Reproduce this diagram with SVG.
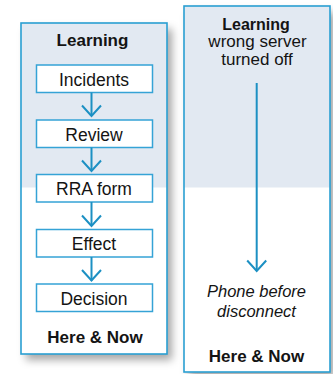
<svg xmlns="http://www.w3.org/2000/svg" width="333" height="374" viewBox="0 0 333 374">
<style>
.base{fill:#ffffff;}
.top{fill:#e2e9f2;}
.frame{fill:none;stroke:#2a9fd2;stroke-width:1.6;}
.box{fill:#ffffff;stroke:#35a3d6;stroke-width:1.5;}
.t{font-family:"Liberation Sans",Arial,sans-serif;font-size:17px;fill:#141414;text-anchor:middle;}
.b{font-weight:bold;}
.i{font-style:italic;}
.conn{fill:none;stroke:#1c90c3;stroke-width:2;}
</style>
<defs>
<filter id="shadow" x="-20%" y="-20%" width="150%" height="150%">
<feDropShadow dx="5" dy="6" stdDeviation="4" flood-color="#000000" flood-opacity="0.35"/>
</filter>
<marker id="vhead" markerUnits="userSpaceOnUse" orient="auto" refX="0" refY="0" markerWidth="14" markerHeight="24" viewBox="-12 -12 14 24" style="overflow:visible">
<path d="M-10.5,-9.5 L0,0 L-10.5,9.5" fill="none" stroke="#1c90c3" stroke-width="2"/>
</marker>
</defs>

<g id="panel-left">
<rect class="base" x="21" y="23" width="146" height="331" filter="url(#shadow)"/>
<rect class="top" x="21" y="23" width="146" height="164.5"/>
<rect class="frame" x="21" y="23" width="146" height="331"/>
<text class="t b" x="92.5" y="46">Learning</text>
<text class="t b" x="95" y="343">Here &amp; Now</text>
</g>

<g id="panel-right">
<rect class="base" x="184" y="6" width="146" height="366" filter="url(#shadow)"/>
<rect class="top" x="184" y="6" width="146" height="181.5"/>
<rect class="frame" x="184" y="6" width="146" height="366"/>
<text class="t b" x="256" y="29.5" style="font-size:16px">Learning</text>
<text class="t" x="257.5" y="46.5">wrong server</text>
<text class="t" x="257" y="64.5">turned off</text>
<text class="t i" x="256.5" y="297" style="font-size:16.5px">Phone before</text>
<text class="t i" x="256.5" y="317" style="font-size:16.5px">disconnect</text>
<text class="t b" x="256.5" y="362">Here &amp; Now</text>
</g>

<g id="node-incidents">
<rect class="box" x="36.5" y="65" width="116" height="27.5"/>
<text class="t" x="94" y="85.5" style="font-size:17.5px">Incidents</text>
</g>
<g id="node-review">
<rect class="box" x="36.5" y="120" width="116" height="27.5"/>
<text class="t" x="94" y="140.5" style="font-size:17.5px">Review</text>
</g>
<g id="node-rra">
<rect class="box" x="36.5" y="174.5" width="116" height="27.5"/>
<text class="t" x="94" y="195" style="font-size:17.5px">RRA form</text>
</g>
<g id="node-effect">
<rect class="box" x="36.5" y="229.5" width="116" height="27.5"/>
<text class="t" x="94" y="250" style="font-size:17.5px">Effect</text>
</g>
<g id="node-decision">
<rect class="box" x="36.5" y="284" width="116" height="27.5"/>
<text class="t" x="94" y="304.5" style="font-size:17.5px">Decision</text>
</g>

<g id="connectors">
<path class="conn" d="M91.5,92.5 V116" marker-end="url(#vhead)"/>
<path class="conn" d="M91.5,147.5 V171" marker-end="url(#vhead)"/>
<path class="conn" d="M91.5,202 V226" marker-end="url(#vhead)"/>
<path class="conn" d="M91.5,257 V280.5" marker-end="url(#vhead)"/>
<path class="conn" d="M256.7,83 V271" marker-end="url(#vhead)"/>
</g>
</svg>
